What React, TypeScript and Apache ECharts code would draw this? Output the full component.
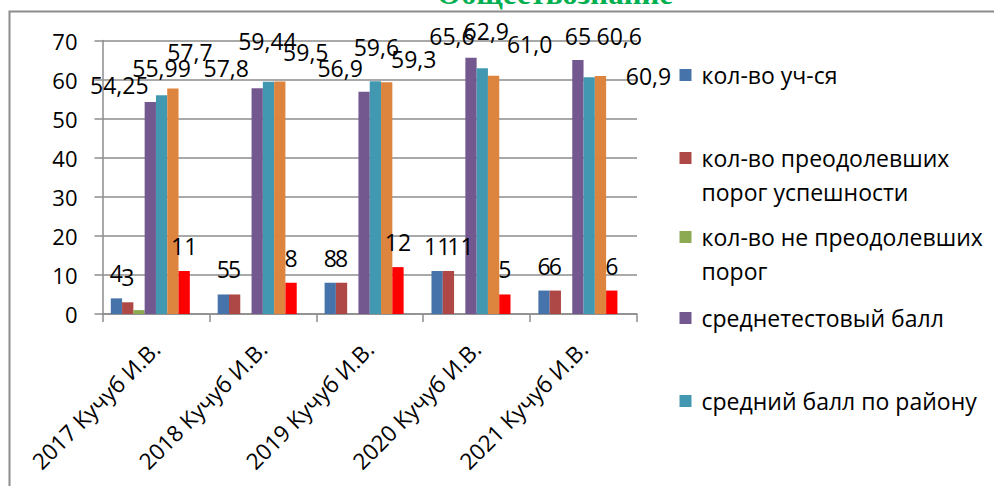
import React, { useEffect, useRef } from "react";
import * as echarts from "echarts";

// ---------- data ----------
const categories = [
  "2017 Кучуб И.В.",
  "2018 Кучуб И.В.",
  "2019 Кучуб И.В.",
  "2020 Кучуб И.В.",
  "2021 Кучуб И.В.",
];
const studentsCount = [4, 5, 8, 11, 6];
const passedCount = [3, 5, 8, 11, 6];
const failedCount = [1, 0, 0, 0, 0];
// scores kept as written on the labels (decimal point; shown with a comma)
const schoolAvg = ["54.25", "57.8", "56.9", "65.6", "65"];
const districtAvg = ["55.99", "59.44", "59.6", "62.9", "60.6"];
const regionAvg = ["57.7", "59.5", "59.3", "61.0", "60.9"];
const seventhValues = [11, 8, 12, 5, 6];
const eighthValues = [0, 0, 0, 0, 0];
const yMin = 0;
const yMax = 70;
const yStep = 10;

const seriesNames = [
  "кол-во уч-ся",
  "кол-во преодолевших порог успешности",
  "кол-во не преодолевших порог",
  "среднетестовый балл",
  "средний балл по району",
  "средний балл по краю",
  "кол-во участников по району",
  "кол-во 100-балльников",
];

const FONT = "'Open Sans', 'Noto Sans', sans-serif";
const colors = [
  "#4674AA",
  "#AE4846",
  "#8CAA52",
  "#735890",
  "#4298B0",
  "#DD843E",
  "#FF0000",
  "#7F7F7F",
];

// label nudges (Excel had moved the overlapping score labels by hand)
const nudges: Record<string, number[][]> = {
  school: [[-31, 8], [-31, 5], [-24, 1], [-19, 3], [0, 1]],
  district: [[0, -2], [-1, -16], [1, -9], [4, -12], [30, -16]],
  region: [[17, -12], [26, -5], [27, 2], [36, -7], [48, 25]],
  passed: [[0, 0], [0, 0], [0, 0], [12, 0], [0, 0]],
};

const baseLabel = {
  show: true,
  position: "top" as const,
  distance: 13.5,
  color: "#000",
  fontFamily: FONT,
  fontSize: 23,
  lineHeight: 23,
};

function countData(vals: number[], nudge?: number[][]) {
  return vals.map((v, i) => ({
    value: v,
    label: nudge ? { offset: nudge[i] } : undefined,
  }));
}

function scoreData(vals: string[], nudge: number[][]) {
  return vals.map((s, i) => ({
    value: Number(s),
    label: { formatter: s.replace(".", ","), offset: nudge[i] },
  }));
}

function buildOption() {
  const mk = (idx: number, data: any[], showLabel: boolean) => ({
    name: seriesNames[idx],
    type: "bar",
    data,
    barGap: "0%",
    barCategoryGap: "15.5%",
    itemStyle: { color: colors[idx] },
    label: { ...baseLabel, show: showLabel },
  });

  const legendItem = (idx: number, top: number, text: string) => ({
    data: [seriesNames[idx]],
    orient: "vertical",
    left: 679.5,
    top,
    padding: 0,
    itemWidth: 12,
    itemHeight: 12,
    icon: "rect",
    selectedMode: false,
    formatter: () => text,
    textStyle: {
      fontFamily: FONT,
      fontSize: 23,
      lineHeight: 33.5,
      color: "#000",
      padding: [0, 0, 0, 5],
    },
  });

  return {
    animation: false,
    backgroundColor: "#fff",
    grid: { left: 102.5, top: 40.5, width: 534.5, height: 273.5, containLabel: false },
    xAxis: {
      type: "category",
      data: categories,
      axisLine: { show: true, lineStyle: { color: "#8c8c8c", width: 1.5 } },
      axisTick: { show: true, length: 8, lineStyle: { color: "#8c8c8c", width: 1.5 } },
      axisLabel: {
        rotate: 45,
        margin: 31,
        color: "#000",
        fontFamily: FONT,
        fontSize: 22.5,
        interval: 0,
      },
    },
    yAxis: {
      type: "value",
      min: yMin,
      max: yMax,
      interval: yStep,
      axisLine: { show: true, lineStyle: { color: "#8c8c8c", width: 1.5 } },
      axisTick: { show: true, length: 8, lineStyle: { color: "#8c8c8c", width: 1.5 } },
      splitLine: { show: true, lineStyle: { color: "#8c8c8c", width: 1.5 } },
      axisLabel: {
        margin: 25,
        color: "#000",
        fontFamily: FONT,
        fontSize: 22,
      },
    },
    legend: [
      legendItem(0, 58.25, seriesNames[0]),
      legendItem(1, 107.75, "\nкол-во преодолевших\nпорог успешности"),
      legendItem(2, 186.75, "\nкол-во не преодолевших\nпорог"),
      legendItem(3, 301.25, seriesNames[3]),
      legendItem(4, 384.25, seriesNames[4]),
    ],
    graphic: [
      {
        type: "rect",
        shape: { x: 9.5, y: 11.5, width: 1300, height: 800 },
        style: { fill: "none", stroke: "#8c8c8c", lineWidth: 2 },
        silent: true,
        z: 0,
      },
      {
        type: "text",
        x: 555,
        y: -7,
        style: {
          text: "Обществознание",
          fill: "#00B050",
          font: "bold 31px 'Liberation Serif', 'Times New Roman', serif",
          textAlign: "center",
          textVerticalAlign: "middle",
        },
        silent: true,
      },
    ],
    series: [
      mk(0, countData(studentsCount), true),
      mk(1, countData(passedCount, nudges.passed), true),
      mk(2, countData(failedCount), false),
      mk(3, scoreData(schoolAvg, nudges.school), true),
      mk(4, scoreData(districtAvg, nudges.district), true),
      mk(5, scoreData(regionAvg, nudges.region), true),
      mk(6, countData(seventhValues), true),
      mk(7, countData(eighthValues), false),
    ],
  };
}

export default function App() {
  const ref = useRef<HTMLDivElement>(null);
  useEffect(() => {
    if (!ref.current) return;
    const chart = echarts.init(ref.current, undefined, { renderer: "svg" });
    chart.setOption(buildOption() as any);
    return () => chart.dispose();
  }, []);
  return (
    <div
      ref={ref}
      style={{ position: "absolute", left: 0, top: 0, width: 994, height: 486, background: "#fff" }}
    />
  );
}
